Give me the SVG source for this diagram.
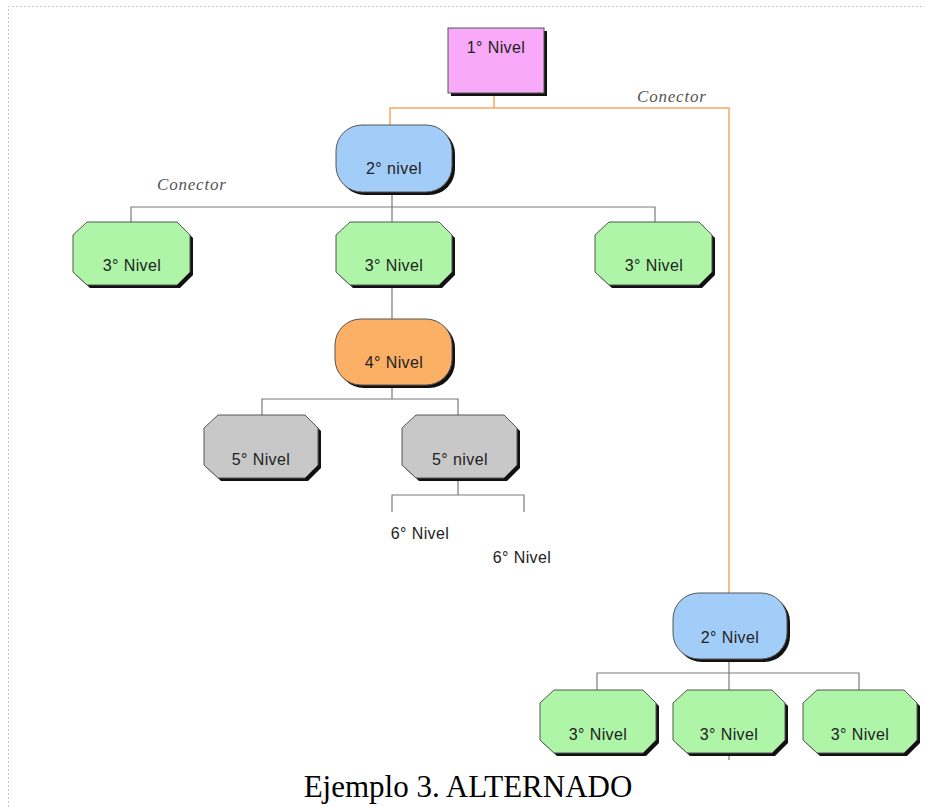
<svg xmlns="http://www.w3.org/2000/svg" width="925" height="807" viewBox="0 0 925 807">
<defs>
<style>
.lbl{font-family:"Liberation Sans",Arial,sans-serif;font-size:16px;letter-spacing:0.4px;fill:#222;text-anchor:middle}
.con{font-family:"Liberation Serif","Times New Roman",serif;font-style:italic;font-size:17px;letter-spacing:0.8px;fill:#555}
.shadow{fill:#111}
.node{stroke:#555;stroke-width:1}
.gray{stroke:#7a7a7a;stroke-width:1.2;fill:none}
.orange{stroke:#f8a860;stroke-width:1.5;fill:none}
.pink{fill:#f8aaf8}
.blue{fill:#a3cdf9}
.green{fill:#aef5a8}
.orng{fill:#fbb066}
.grey{fill:#c8c8c8}
</style>
</defs>
<rect width="925" height="807" fill="#fff"/>
<path d="M8.5,807 V6.5 H925" fill="none" stroke="#c8c8c8" stroke-width="1" stroke-dasharray="2 2"/>

<g id="connectors">
<path class="orange" d="M494,93 V108 M390,125 V108 H729 V593"/>
<path class="gray" d="M392,192 V285 M131,222 V207 H655 V222"/>
<path class="gray" d="M392,285 V319 M392,385 V399 M262,415 V399 H458 V415"/>
<path class="gray" d="M458,478 V495 M392,512 V495 H524 V512"/>
<path class="gray" d="M729,659 V690 M597,690 V673 H859 V690 M729,753 V760"/>
</g>

<text class="con" x="637" y="102">Conector</text>
<text class="con" x="157" y="190">Conector</text>

<g id="n1">
<rect class="shadow" x="451" y="31" width="96" height="65"/>
<rect class="node pink" x="448" y="28" width="96" height="65"/>
<text class="lbl" x="496" y="53">1° Nivel</text>
</g>

<g id="n2a">
<rect class="shadow" x="339" y="128" width="116" height="67" rx="26"/>
<rect class="node blue" x="336" y="125" width="116" height="67" rx="26"/>
<text class="lbl" x="394" y="174">2° nivel</text>
</g>

<g id="n3a">
<polygon class="shadow" points="90,225 180,225 193,238 193,275 180,288 90,288 76,275 76,238"/>
<polygon class="node green" points="87,222 177,222 190,235 190,272 177,285 87,285 73,272 73,235"/>
<text class="lbl" x="132" y="271">3° Nivel</text>
</g>

<g id="n3b">
<polygon class="shadow" points="353,225 442,225 455,238 455,275 442,288 353,288 339,275 339,238"/>
<polygon class="node green" points="350,222 439,222 452,235 452,272 439,285 350,285 336,272 336,235"/>
<text class="lbl" x="394" y="271">3° Nivel</text>
</g>

<g id="n3c">
<polygon class="shadow" points="612,225 702,225 715,238 715,275 702,288 612,288 598,275 598,238"/>
<polygon class="node green" points="609,222 699,222 712,235 712,272 699,285 609,285 595,272 595,235"/>
<text class="lbl" x="654" y="271">3° Nivel</text>
</g>

<g id="n4">
<rect class="shadow" x="338" y="322" width="117" height="66" rx="26"/>
<rect class="node orng" x="335" y="319" width="117" height="66" rx="26"/>
<text class="lbl" x="394" y="368">4° Nivel</text>
</g>

<g id="n5a">
<polygon class="shadow" points="221,418 308,418 321,431 321,468 308,481 221,481 207,468 207,431"/>
<polygon class="node grey" points="218,415 305,415 318,428 318,465 305,478 218,478 204,465 204,428"/>
<text class="lbl" x="261" y="465">5° Nivel</text>
</g>

<g id="n5b">
<polygon class="shadow" points="419,418 507,418 520,431 520,468 507,481 419,481 405,468 405,431"/>
<polygon class="node grey" points="416,415 504,415 517,428 517,465 504,478 416,478 402,465 402,428"/>
<text class="lbl" x="460" y="465">5° nivel</text>
</g>

<g id="n6a"><text class="lbl" x="420" y="539">6° Nivel</text></g>
<g id="n6b"><text class="lbl" x="522" y="563">6° Nivel</text></g>

<g id="n2b">
<rect class="shadow" x="676" y="596" width="114" height="66" rx="26"/>
<rect class="node blue" x="673" y="593" width="114" height="66" rx="26"/>
<text class="lbl" x="730" y="643">2° Nivel</text>
</g>

<g id="n3d">
<polygon class="shadow" points="557,693 646,693 659,706 659,743 646,756 557,756 543,743 543,706"/>
<polygon class="node green" points="554,690 643,690 656,703 656,740 643,753 554,753 540,740 540,703"/>
<text class="lbl" x="598" y="740">3° Nivel</text>
</g>

<g id="n3e">
<polygon class="shadow" points="690,693 775,693 788,706 788,743 775,756 690,756 676,743 676,706"/>
<polygon class="node green" points="687,690 772,690 785,703 785,740 772,753 687,753 673,740 673,703"/>
<text class="lbl" x="729" y="740">3° Nivel</text>
</g>

<g id="n3f">
<polygon class="shadow" points="820,693 907,693 920,706 920,743 907,756 820,756 806,743 806,706"/>
<polygon class="node green" points="817,690 904,690 917,703 917,740 904,753 817,753 803,740 803,703"/>
<text class="lbl" x="860" y="740">3° Nivel</text>
</g>

<text x="468" y="797" font-family="'Liberation Serif','Times New Roman',serif" font-size="31" fill="#000" text-anchor="middle">Ejemplo 3. ALTERNADO</text>
</svg>
